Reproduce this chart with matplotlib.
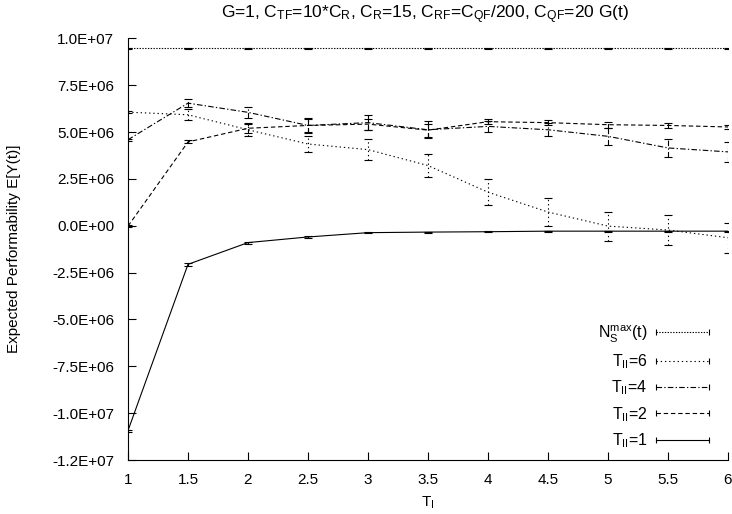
import numpy as np
import matplotlib
matplotlib.use("Agg")
import matplotlib.pyplot as plt
from matplotlib.lines import Line2D

plt.rcParams['font.family'] = ['Liberation Sans', 'DejaVu Sans']
plt.rcParams['mathtext.fontset'] = 'custom'
plt.rcParams['mathtext.rm'] = 'Liberation Sans'
plt.rcParams['mathtext.it'] = 'Liberation Sans:italic'
plt.rcParams['font.size'] = 11

# data (values in units of 1E6)
t_i = [1, 1.5, 2, 2.5, 3, 3.5, 4, 4.5, 5, 5.5, 6]

ns_max = [9.47, 9.47, 9.47, 9.47, 9.47, 9.47, 9.47, 9.47, 9.47, 9.47, 9.47]
ns_max_err = [0.03, 0.03, 0.03, 0.03, 0.03, 0.03, 0.03, 0.03, 0.03, 0.03, 0.03]

t2_6 = [6.06, 5.92, 5.12, 4.36, 4.06, 3.21, 1.79, 0.73, -0.02, -0.23, -0.64]
t2_6_err = [0.05, 0.3, 0.35, 0.45, 0.55, 0.6, 0.68, 0.73, 0.77, 0.8, 0.8]

t2_4 = [4.59, 6.54, 6.05, 5.35, 5.5, 5.12, 5.3, 5.12, 4.77, 4.15, 3.94]
t2_4_err = [0.05, 0.2, 0.3, 0.4, 0.4, 0.45, 0.3, 0.35, 0.45, 0.5, 0.55]

t2_2 = [-0.02, 4.47, 5.2, 5.35, 5.42, 5.1, 5.55, 5.5, 5.39, 5.35, 5.27]
t2_2_err = [0.05, 0.08, 0.25, 0.35, 0.3, 0.35, 0.12, 0.12, 0.15, 0.15, 0.12]

t2_1 = [-10.93, -2.06, -0.9, -0.6, -0.37, -0.34, -0.32, -0.29, -0.29, -0.29, -0.29]
t2_1_err = [0.05, 0.08, 0.05, 0.04, 0.03, 0.03, 0.03, 0.03, 0.03, 0.03, 0.03]

series = [
    (ns_max, ns_max_err, r'N$_\mathrm{S}^\mathrm{max}$(t)', (0, (1.2, 1.3))),
    (t2_6, t2_6_err, r'T$_\mathrm{II}$=6', (0, (1.2, 2.6))),
    (t2_4, t2_4_err, r'T$_\mathrm{II}$=4', (0, (5, 2, 1.2, 2))),
    (t2_2, t2_2_err, r'T$_\mathrm{II}$=2', (0, (4, 2.5))),
    (t2_1, t2_1_err, r'T$_\mathrm{II}$=1', '-'),
]

fig = plt.figure(figsize=(7.32, 5.14), dpi=100)
ax = fig.add_axes([128 / 732, 1 - 460 / 514, 600 / 732, (460 - 38.3) / 514])

handles = []
for vals, err, lab, ls in series:
    y = np.array(vals) * 1e6
    e = np.array(err) * 1e6
    line, caps, bars = ax.errorbar(t_i, y, yerr=e, color='k', lw=0.8, ls=ls,
                                   capsize=3, capthick=0.8, elinewidth=0.8)
    bars[0].set_linestyle(ls)
    handles.append(Line2D([], [], color='k', lw=0.8, ls=ls, marker='|',
                          markersize=5, markeredgewidth=0.8, label=lab))

ax.set_xlim(1, 6)
ax.set_ylim(-1.25e7, 1.0e7)
ax.set_xticks([1, 1.5, 2, 2.5, 3, 3.5, 4, 4.5, 5, 5.5, 6])
ax.set_xticklabels(['1', '1.5', '2', '2.5', '3', '3.5', '4', '4.5', '5', '5.5', '6'])
yt = np.arange(-1.25e7, 1.01e7, 2.5e6)
ax.set_yticks(yt)
ax.set_yticklabels(['%.1E' % v for v in yt])
ax.tick_params(direction='in', length=6, width=0.8, labelsize=11)
ax.tick_params(axis='y', pad=10)
ax.tick_params(axis='x', pad=9)
ax.spines['top'].set_visible(False)
ax.spines['right'].set_visible(False)
for s in ['left', 'bottom']:
    ax.spines[s].set_linewidth(0.8)

ax.set_xlabel(r'T$_\mathrm{I}$', fontsize=11, labelpad=6)
ax.set_ylabel('Expected Performability E[Y(t)]', fontsize=11, labelpad=22)
fig.text(425 / 732, 1 - 15 / 514,
         r'G=1, C$_\mathrm{TF}$=10*C$_\mathrm{R}$, C$_\mathrm{R}$=15, '
         r'C$_\mathrm{RF}$=C$_\mathrm{QF}$/200, C$_\mathrm{QF}$=20 G(t)',
         ha='center', va='center', fontsize=12.5)

ax.legend(handles=handles, loc='lower right', bbox_to_anchor=(722 / 732, 1 - 458 / 514),
          bbox_transform=fig.transFigure, frameon=False, markerfirst=False,
          numpoints=2, handlelength=3.95, labelspacing=0.48, fontsize=11.5,
          handletextpad=0.2, borderpad=0)

fig.savefig('out.png', dpi=100)
